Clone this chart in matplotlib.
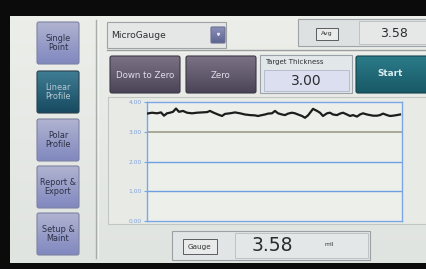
import numpy as np
import matplotlib
matplotlib.use("Agg")
import matplotlib.pyplot as plt
from matplotlib.patches import Rectangle, FancyBboxPatch

# scan position (mm) and measured thickness (mil)
scan_pos = [0, 5, 10, 14, 17, 20, 23, 26, 29, 32, 36, 40, 45, 50, 55, 60, 63, 66,
            71, 75, 78, 83, 88, 93, 98, 103, 108, 111, 115, 118, 121, 125, 128,
            131, 135, 138, 141, 145, 148, 151, 155, 158, 161, 164, 166, 170, 173,
            176, 180, 183, 186, 190, 193, 196, 200, 203, 206, 210, 213, 216, 220,
            223, 226, 230, 233, 236, 240, 243, 246, 250, 253]
thickness = [3.61, 3.64, 3.62, 3.65, 3.54, 3.62, 3.64, 3.67, 3.78, 3.67, 3.70, 3.64,
             3.62, 3.64, 3.65, 3.66, 3.70, 3.65, 3.58, 3.53, 3.60, 3.62, 3.65, 3.62,
             3.58, 3.56, 3.55, 3.53, 3.56, 3.58, 3.61, 3.62, 3.70, 3.62, 3.58, 3.56,
             3.61, 3.64, 3.62, 3.58, 3.53, 3.47, 3.55, 3.68, 3.77, 3.70, 3.64, 3.53,
             3.62, 3.64, 3.58, 3.56, 3.61, 3.64, 3.58, 3.53, 3.56, 3.51, 3.58, 3.62,
             3.58, 3.56, 3.54, 3.54, 3.56, 3.61, 3.56, 3.53, 3.54, 3.56, 3.58]
y_ticks = [0, 1, 2, 3, 4]
y_labels = ["0.00", "1.00", "2.00", "3.00", "4.00"]
target = 3.00
avg_value = "3.58"
gauge_value = "3.58"
nav_items = ["Single\nPoint", "Linear\nProfile", "Polar\nProfile",
             "Report &\nExport", "Setup &\nMaint"]
active_item = 1

plt.rcParams["font.family"] = ["DejaVu Sans"]

fig = plt.figure(figsize=(4.27, 2.69), dpi=100)
ui = fig.add_axes([0, 0, 1, 1])
ui.set_xlim(0, 427)
ui.set_ylim(269, 0)
ui.axis("off")


def gradient_box(x, y, w, h, top, bottom, edge, rounded=2.0, z=2):
    grad = np.linspace(0, 1, 64)[:, None]
    c1 = np.array(matplotlib.colors.to_rgb(top))
    c2 = np.array(matplotlib.colors.to_rgb(bottom))
    img = c1 + (c2 - c1) * grad[..., None]
    img = np.repeat(img, 2, axis=1)
    box = FancyBboxPatch((x, y), w, h, boxstyle=f"round,pad=0,rounding_size={rounded}",
                         fc="none", ec=edge, lw=0.8, zorder=z + 1)
    ui.add_patch(box)
    im = ui.imshow(img, extent=(x, x + w, y + h, y), aspect="auto", zorder=z)
    im.set_clip_path(box)


def plain_box(x, y, w, h, fc, ec, lw=0.8, z=2):
    ui.add_patch(Rectangle((x, y), w, h, fc=fc, ec=ec, lw=lw, zorder=z))


# screen and bezel
ui.add_patch(Rectangle((0, 0), 427, 269, fc="#0b0b0b", zorder=0))
gradient_box(10, 16, 420, 247, "#eceeea", "#e0e4e0", "none", rounded=0.1, z=0.5)

# left navigation
nav_y = [22, 71, 119, 166, 213]
for i, (label, yy) in enumerate(zip(nav_items, nav_y)):
    if i == active_item:
        gradient_box(37, yy, 42, 42, "#3f7d94", "#174a60", "#2a4050")
        tc = "#b7cad6"
    else:
        gradient_box(37, yy, 42, 42, "#b0b3d0", "#8088bf", "#7e83a2")
        tc = "#2c2f45"
    ui.text(58, yy + 21, label, ha="center", va="center", fontsize=5.9,
            color=tc, linespacing=1.1, zorder=5)

ui.plot([96, 96], [20, 258], color="#a9ada9", lw=1.0, zorder=3)
ui.plot([98, 98], [20, 258], color="#f4f6f4", lw=0.6, zorder=3)

# gauge selector
plain_box(107, 22, 119, 26, "#e4e7e6", "#9ea2a6")
ui.text(111, 35, "MicroGauge", ha="left", va="center", fontsize=6.6, color="#2e3033", zorder=5)
gradient_box(211, 27, 14, 16, "#8a90b8", "#5d6492", "#6a6f90", rounded=1)
ui.plot([218], [34], marker="v", ms=1.5, color="#e8e8f0", zorder=6)

# average display
plain_box(298, 19, 131, 27, "#dde1e2", "#9ea3a7")
plain_box(316, 28, 22, 12, "#e9ebeb", "#5a5c60", lw=0.7, z=3)
ui.text(327, 34, "Avg", ha="center", va="center", fontsize=4.5, color="#333", zorder=5)
plain_box(359, 21, 70, 23, "#e6e8e8", "#b9bdbf", lw=0.6, z=3)
ui.text(394, 33.5, avg_value, ha="center", va="center", fontsize=9, color="#2a2c2f", zorder=5)

ui.plot([107, 427], [50, 50], color="#9ca09c", lw=1.0, zorder=3)
ui.plot([107, 427], [52, 52], color="#f2f4f2", lw=0.6, zorder=3)

# action buttons
gradient_box(110, 56, 70, 37, "#7b7384", "#4b4458", "#3c3846")
ui.text(145, 75, "Down to Zero", ha="center", va="center", fontsize=6.2, color="#e2dde8", zorder=5)
gradient_box(186, 56, 70, 37, "#7b7384", "#4b4458", "#3c3846")
ui.text(221, 75, "Zero", ha="center", va="center", fontsize=6.2, color="#e2dde8", zorder=5)
gradient_box(356, 56, 73, 37, "#2b7b89", "#185866", "#12434d")
ui.text(390, 74, "Start", ha="center", va="center", fontsize=6.4, color="#d6eaee",
        fontweight="bold", zorder=5)

plain_box(260, 55, 92, 38, "#e2e7ea", "#9aa3aa")
ui.text(265, 62, "Target Thickness", ha="left", va="center", fontsize=5, color="#2e3033", zorder=5)
plain_box(264, 70, 85, 21, "#dcdff0", "#b2b6ca", lw=0.6, z=3)
ui.text(306, 81, "3.00", ha="center", va="center", fontsize=10, color="#2a2c2f", zorder=5)

# chart panel
plain_box(108, 97, 321, 127, "#e8ebe5", "#c3c7c3", z=1)

# bottom gauge readout
plain_box(172, 231, 198, 29, "#e1e5e5", "#9aa0a4")
plain_box(183, 239, 34, 15, "#e9ebeb", "#5a5c60", lw=0.7, z=3)
ui.text(200, 246.5, "Gauge", ha="center", va="center", fontsize=5.2, color="#333", zorder=5)
plain_box(235, 233, 133, 25, "#e4e7e7", "#b9bdbf", lw=0.6, z=3)
ui.text(272, 245.5, gauge_value, ha="center", va="center", fontsize=13.5, color="#2a2c2f", zorder=5)
ui.text(329, 245, "mil", ha="center", va="center", fontsize=4.4, color="#333", zorder=5)

# thickness profile chart
ax = fig.add_axes([147 / 427, (269 - 221) / 269, (402 - 147) / 427, (221 - 102) / 269])
ax.set_facecolor("#edf0ea")
ax.set_xlim(0, 255)
ax.set_ylim(0, 4)
for v in [1, 2]:
    ax.axhline(v, color="#6e9fe2", lw=1.0, zorder=1)
ax.axhline(target, color="#9c9c88", lw=1.2, zorder=1)
ax.plot(scan_pos, thickness, color="#1c1c1c", lw=1.6, zorder=3)

for s in ax.spines.values():
    s.set_color("#7aa6e6")
    s.set_linewidth(1.0)
ax.set_xticks([])
ax.set_yticks(y_ticks)
ax.set_yticklabels(y_labels)
ax.tick_params(axis="y", length=2.5, width=0.8, color="#7aa6e6", labelsize=4.3,
               labelcolor="#7f9fe0", pad=1.5)

fig.savefig("out.png", dpi=100)
